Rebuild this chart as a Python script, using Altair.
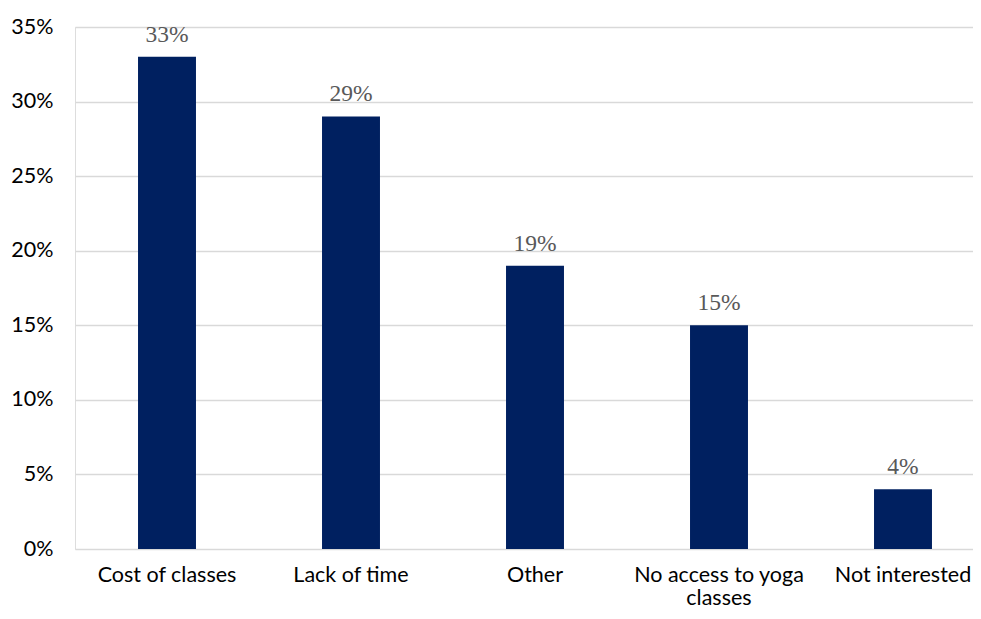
import altair as alt
import pandas as pd

categories = ["Cost of classes", "Lack of time", "Other", "No access to yoga classes", "Not interested"]
values = [0.33, 0.29, 0.19, 0.15, 0.04]
value_labels = ["33%", "29%", "19%", "15%", "4%"]

df = pd.DataFrame({"category": categories, "value": values, "label": value_labels})

x = alt.X(
    "category:N",
    sort=categories,
    title=None,
    scale=alt.Scale(range=[0, 920], paddingInner=0.685, paddingOuter=0.3425),
    axis=alt.Axis(
        labelAngle=0,
        domain=False,
        ticks=False,
        grid=False,
        labelFont="Lato",
        labelFontSize=21.5,
        labelColor="#000000",
        labelPadding=15,
        labelLineHeight=23,
        labelBaseline="top",
        labelExpr="datum.label == 'No access to yoga classes' ? ['No access to yoga', 'classes'] : datum.label",
    ),
)
y = alt.Y(
    "value:Q",
    title=None,
    scale=alt.Scale(domain=[0, 0.35], nice=False),
    axis=alt.Axis(
        format=".0%",
        values=[0, 0.05, 0.10, 0.15, 0.20, 0.25, 0.30, 0.35],
        domain=False,
        ticks=False,
        gridColor="#d9d9d9",
        gridWidth=1.5,
        labelFont="Lato",
        labelFontSize=21.5,
        labelColor="#000000",
        labelPadding=22,
    ),
)

bars = alt.Chart(df).mark_bar(color="#002060").encode(x=x, y=y)
text = alt.Chart(df).mark_text(
    font="Liberation Serif", fontSize=23.5, color="#595959", baseline="alphabetic", dy=-15
).encode(x=x, y=y, text="label:N")

chart = (
    alt.layer(bars, text)
    .properties(
        width=898,
        height=522,
        autosize=alt.AutoSizeParams(type="none"),
        padding={"left": 67, "top": 19, "right": 0, "bottom": 62},
    )
    .configure_view(stroke=None)
    .configure(background="white")
)

chart.save("out.html", embed_options={"renderer": "svg", "actions": False})
